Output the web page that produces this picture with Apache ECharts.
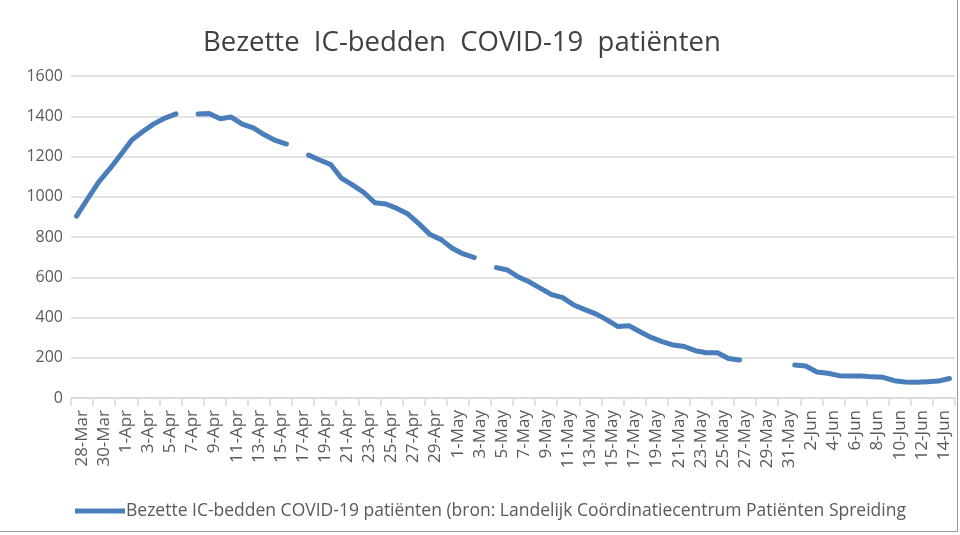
<!DOCTYPE html>
<html>
<head>
<meta charset="utf-8">
<script src="https://cdn.jsdelivr.net/npm/echarts@6/dist/echarts.min.js"></script>
<style>
html,body{margin:0;padding:0;background:#fff;}
#chart{width:960px;height:535px;}
</style>
</head>
<body>
<div id="chart"></div>
<script>
var dates = [
 '28-Mar','29-Mar','30-Mar','31-Mar',
 '1-Apr','2-Apr','3-Apr','4-Apr','5-Apr','6-Apr','7-Apr','8-Apr','9-Apr','10-Apr',
 '11-Apr','12-Apr','13-Apr','14-Apr','15-Apr','16-Apr','17-Apr','18-Apr','19-Apr','20-Apr',
 '21-Apr','22-Apr','23-Apr','24-Apr','25-Apr','26-Apr','27-Apr','28-Apr','29-Apr','30-Apr',
 '1-May','2-May','3-May','4-May','5-May','6-May','7-May','8-May','9-May','10-May',
 '11-May','12-May','13-May','14-May','15-May','16-May','17-May','18-May','19-May','20-May',
 '21-May','22-May','23-May','24-May','25-May','26-May','27-May','28-May','29-May','30-May','31-May',
 '1-Jun','2-Jun','3-Jun','4-Jun','5-Jun','6-Jun','7-Jun','8-Jun','9-Jun','10-Jun',
 '11-Jun','12-Jun','13-Jun','14-Jun','15-Jun'
];
var icBeds = [
 904, 989, 1073, 1138,
 1209, 1282, 1324, 1362, 1391, 1412, null, 1411, 1414, 1388,
 1396, 1361, 1342, 1308, 1280, 1262, null, 1207, 1183, 1160,
 1091, 1058, 1021, 970, 964, 942, 914, 865, 812, 787,
 744, 716, 698, null, 648, 636, 601, 576, 545, 514,
 499, 462, 439, 418, 388, 355, 359, 329, 301, 280,
 263, 256, 235, 225, 225, 196, 189, null, null, null, null,
 164, 159, 129, 123, 111, 109, 109, 105, 103, 86,
 80, 78, 81, 84, 97
];
var tickLabels = [
 '28-Mar','30-Mar','1-Apr','3-Apr','5-Apr','7-Apr','9-Apr','11-Apr','13-Apr','15-Apr',
 '17-Apr','19-Apr','21-Apr','23-Apr','25-Apr','27-Apr','29-Apr','1-May','3-May','5-May',
 '7-May','9-May','11-May','13-May','15-May','17-May','19-May','21-May','23-May','25-May',
 '27-May','29-May','31-May','2-Jun','4-Jun','6-Jun','8-Jun','10-Jun','12-Jun','14-Jun'
];
var seriesName = 'Bezette IC-bedden COVID-19 patiënten (bron: Landelijk Coördinatiecentrum Patiënten Spreiding';
var titleText = 'Bezette  IC-bedden  COVID-19  patiënten';

var FONT = '"Open Sans", sans-serif';
var chart = echarts.init(document.getElementById('chart'), null, {renderer: 'canvas'});
chart.setOption({
  animation: false,
  backgroundColor: '#ffffff',
  title: {
    text: titleText,
    left: 198,
    top: 24,
    textStyle: {fontFamily: FONT, fontSize: 27.5, fontWeight: 'normal', color: '#404040'}
  },
  grid: {left: 71, right: 5, top: 76, bottom: 137, containLabel: false},
  legend: {
    left: 70,
    top: 497,
    itemWidth: 50,
    itemHeight: 5,
    itemGap: 4,
    icon: 'rect',
    data: [seriesName],
    textStyle: {fontFamily: FONT, fontSize: 17.5, color: '#595959', padding: [0, 0, 0, -4]}
  },
  xAxis: [
    {
      type: 'category',
      data: dates,
      boundaryGap: true,
      position: 'bottom',
      show: false
    },
    {
      type: 'category',
      data: tickLabels,
      boundaryGap: true,
      position: 'bottom',
      offset: 0,
      axisLine: {show: true, lineStyle: {color: '#d9d9d9', width: 1.5}},
      axisTick: {show: true, interval: 0, length: 8, lineStyle: {color: '#d9d9d9', width: 1.5}},
      axisLabel: {interval: 0, rotate: 90, margin: 12, fontFamily: FONT, fontSize: 17, color: '#595959'},
      splitLine: {show: false}
    }
  ],
  yAxis: {
    type: 'value',
    min: 0,
    max: 1600,
    interval: 200,
    axisLine: {show: false},
    axisTick: {show: false},
    axisLabel: {margin: 8, fontFamily: FONT, fontSize: 16, color: '#595959', formatter: function (v) { return String(v); }},
    splitLine: {lineStyle: {color: '#d9d9d9', width: 1.5}}
  },
  series: [{
    name: seriesName,
    type: 'line',
    xAxisIndex: 0,
    data: icBeds,
    connectNulls: false,
    showSymbol: false,
    symbol: 'none',
    lineStyle: {color: '#4a7ebb', width: 5, cap: 'round', join: 'round'},
    itemStyle: {color: '#4a7ebb'}
  }],
  graphic: [
    {type: 'line', shape: {x1: 957.5, y1: 0, x2: 957.5, y2: 531}, style: {stroke: '#9a9a9a', lineWidth: 1}},
    {type: 'line', shape: {x1: 0, y1: 531.5, x2: 958, y2: 531.5}, style: {stroke: '#9a9a9a', lineWidth: 1}}
  ]
});
</script>
</body>
</html>
